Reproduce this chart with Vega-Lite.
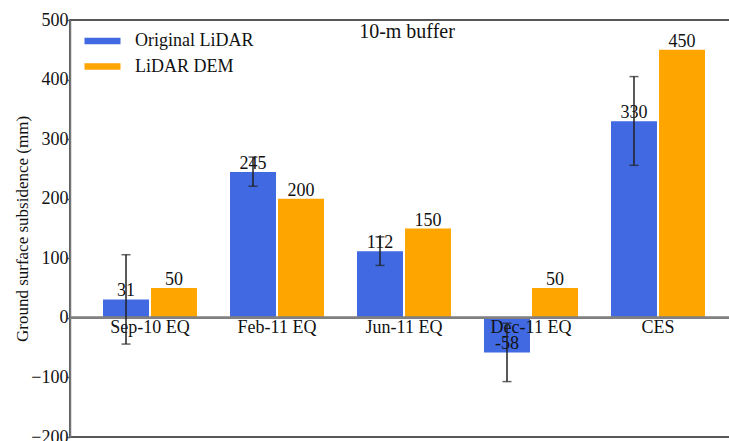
{
  "$schema": "https://vega.github.io/schema/vega-lite/v6.json",
  "width": 668,
  "height": 417,
  "autosize": {"type": "none"},
  "padding": {"left": 70, "top": 20, "right": 0, "bottom": 4},
  "background": "white",
  "config": {
    "font": "Liberation Serif",
    "view": {"stroke": "#222", "strokeWidth": 1.5}
  },
  "title": {"text": "10-m buffer", "fontSize": 20, "font": "Liberation Serif", "fontWeight": "normal", "color": "#111", "offset": -31, "baseline": "top", "dx": 3},
  "datasets": {
    "bars": [
      {"cat": "Sep-10 EQ", "series": "Original LiDAR", "value": 31, "label": "31"},
      {"cat": "Sep-10 EQ", "series": "LiDAR DEM", "value": 50, "label": "50"},
      {"cat": "Feb-11 EQ", "series": "Original LiDAR", "value": 245, "label": "245"},
      {"cat": "Feb-11 EQ", "series": "LiDAR DEM", "value": 200, "label": "200"},
      {"cat": "Jun-11 EQ", "series": "Original LiDAR", "value": 112, "label": "112"},
      {"cat": "Jun-11 EQ", "series": "LiDAR DEM", "value": 150, "label": "150"},
      {"cat": "Dec-11 EQ", "series": "Original LiDAR", "value": -58, "label": "-58"},
      {"cat": "Dec-11 EQ", "series": "LiDAR DEM", "value": 50, "label": "50"},
      {"cat": "CES", "series": "Original LiDAR", "value": 330, "label": "330"},
      {"cat": "CES", "series": "LiDAR DEM", "value": 450, "label": "450"}
    ],
    "err": [
      {"cat": "Sep-10 EQ", "series": "Original LiDAR", "low": -44, "high": 106},
      {"cat": "Feb-11 EQ", "series": "Original LiDAR", "low": 221, "high": 270},
      {"cat": "Jun-11 EQ", "series": "Original LiDAR", "low": 88, "high": 136},
      {"cat": "Dec-11 EQ", "series": "Original LiDAR", "low": -107, "high": -9},
      {"cat": "CES", "series": "Original LiDAR", "low": 256, "high": 405}
    ],
    "cats": [
      {"cat": "Sep-10 EQ", "zero": 0},
      {"cat": "Feb-11 EQ", "zero": 0},
      {"cat": "Jun-11 EQ", "zero": 0},
      {"cat": "Dec-11 EQ", "zero": 0},
      {"cat": "CES", "zero": 0}
    ]
  },
  "encoding": {
    "x": {"field": "cat", "type": "nominal", "sort": ["Sep-10 EQ", "Feb-11 EQ", "Jun-11 EQ", "Dec-11 EQ", "CES"], "axis": null,
          "scale": {"paddingInner": 0.26, "paddingOuter": 0.26}}
  },
  "layer": [
    {
      "data": {"name": "bars"},
      "mark": {"type": "bar"},
      "encoding": {
        "xOffset": {"field": "series", "type": "nominal", "scale": {"domain": ["Original LiDAR", "LiDAR DEM"], "paddingInner": 0.042, "paddingOuter": 0}},
        "y": {"field": "value", "type": "quantitative",
              "scale": {"domain": [-200, 500], "nice": false, "zero": false},
              "axis": {"values": [-200, -100, 0, 100, 200, 300, 400, 500], "grid": false, "title": "Ground surface subsidence (mm)",
                       "titleFont": "Liberation Serif", "titleFontSize": 17, "titleFontWeight": "normal", "titleColor": "#111", "titlePadding": -1,
                       "labelFont": "Liberation Serif", "labelFontSize": 18, "labelColor": "#111", "labelPadding": -1,
                       "tickSize": 3, "tickColor": "#666", "tickWidth": 1.5, "domainColor": "#777", "domainWidth": 1.5}},
        "color": {"field": "series", "type": "nominal",
                  "scale": {"domain": ["Original LiDAR", "LiDAR DEM"], "range": ["#4169E1", "#FFA500"]},
                  "legend": {"title": null, "orient": "none", "legendX": 23.5, "legendY": 12,
                             "symbolType": "M-2.77,-0.5H2.77V0.5H-2.77Z", "symbolSize": 169, "symbolStrokeWidth": 0, "symbolOpacity": 1,
                             "labelFont": "Liberation Serif", "labelFontSize": 18, "labelColor": "#111", "labelOffset": 23.5,
                             "rowPadding": 7.5, "padding": 0}}
      }
    },
    {
      "data": {"name": "cats"},
      "mark": {"type": "rule", "color": "#808080", "strokeWidth": 2},
      "encoding": {
        "y": {"field": "zero", "type": "quantitative"},
        "x": {"value": 0},
        "x2": {"value": 668}
      }
    },
    {
      "data": {"name": "bars"},
      "mark": {"type": "text", "baseline": "bottom", "fontSize": 18, "font": "Liberation Serif", "color": "#111", "dy": 1},
      "encoding": {
        "xOffset": {"field": "series", "type": "nominal"},
        "y": {"field": "value", "type": "quantitative"},
        "text": {"field": "label", "type": "nominal"}
      }
    },
    {
      "data": {"name": "cats"},
      "mark": {"type": "text", "baseline": "top", "fontSize": 18, "font": "Liberation Serif", "color": "#111", "dy": 1},
      "encoding": {
        "y": {"field": "zero", "type": "quantitative"},
        "text": {"field": "cat", "type": "nominal"}
      }
    },
    {
      "data": {"name": "err"},
      "mark": {"type": "rule", "color": "#222", "strokeWidth": 1.5},
      "encoding": {
        "xOffset": {"field": "series", "type": "nominal"},
        "y": {"field": "low", "type": "quantitative"},
        "y2": {"field": "high"}
      }
    },
    {
      "data": {"name": "err"},
      "mark": {"type": "tick", "color": "#222", "size": 9, "thickness": 1.5, "orient": "horizontal"},
      "encoding": {
        "xOffset": {"field": "series", "type": "nominal"},
        "y": {"field": "low", "type": "quantitative"}
      }
    },
    {
      "data": {"name": "err"},
      "mark": {"type": "tick", "color": "#222", "size": 9, "thickness": 1.5, "orient": "horizontal"},
      "encoding": {
        "xOffset": {"field": "series", "type": "nominal"},
        "y": {"field": "high", "type": "quantitative"}
      }
    }
  ]
}
